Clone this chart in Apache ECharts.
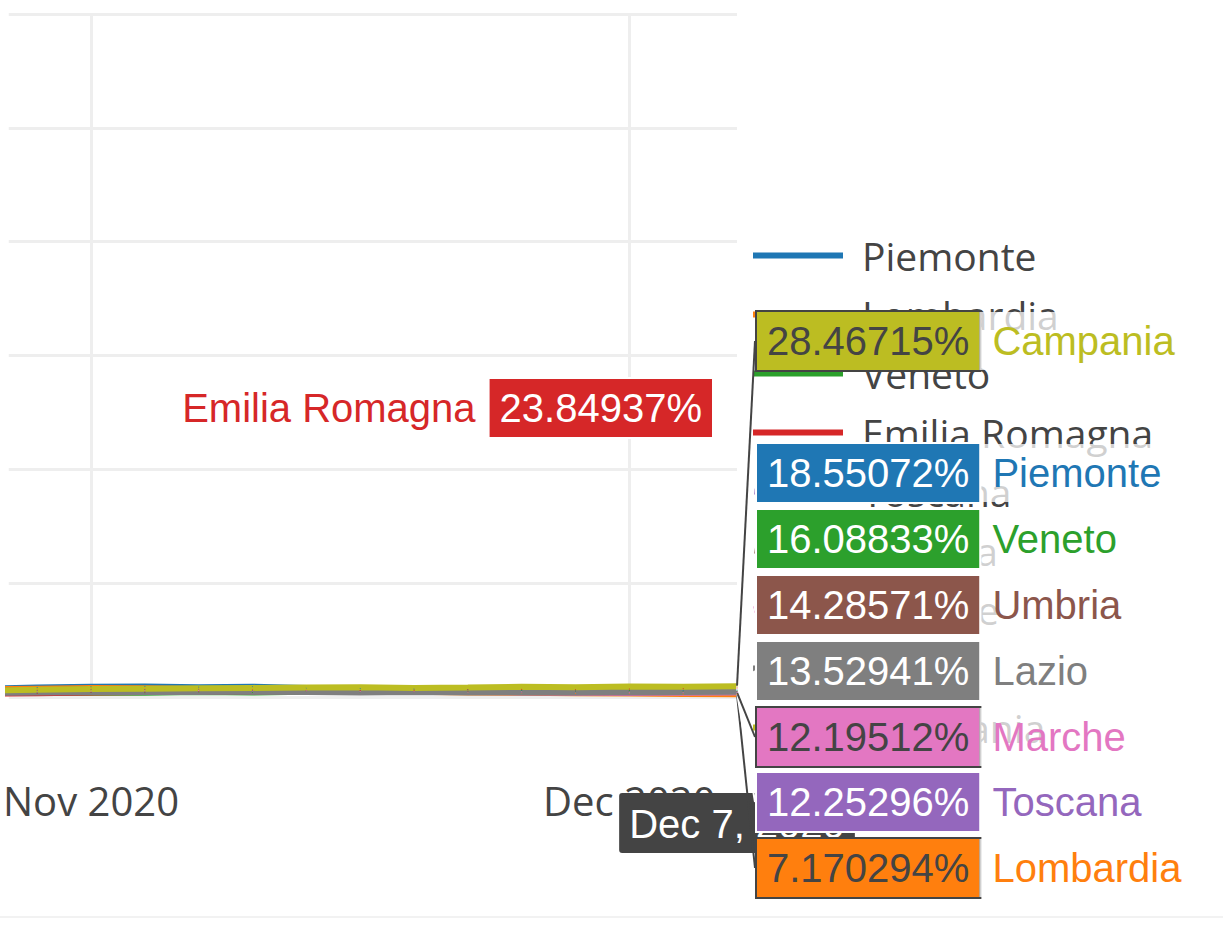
<!DOCTYPE html>
<html>
<head>
<meta charset="utf-8">
<title>Positivity by region</title>
<script src="https://cdn.jsdelivr.net/npm/echarts@6/dist/echarts.min.js"></script>
<style>
  html, body { margin: 0; padding: 0; background: #fff; }
  #chart { width: 1223px; height: 916px; border-bottom: 2px solid #f2f2f2; }
</style>
</head>
<body>
<div id="chart"></div>
<script>
// dates of the samples
const dates = ['2020-10-26', '2020-10-29', '2020-11-01', '2020-11-04', '2020-11-07',
  '2020-11-10', '2020-11-13', '2020-11-16', '2020-11-19', '2020-11-22',
  '2020-11-25', '2020-11-28', '2020-12-01', '2020-12-04', '2020-12-07']

// regions, in legend order
const regions = ['Piemonte', 'Lombardia', 'Veneto', 'Emilia Romagna', 'Toscana',
  'Umbria', 'Marche', 'Lazio', 'Campania']
const colors = ['#1f77b4', '#ff7f0e', '#2ca02c', '#d62728', '#9467bd',
  '#8c564b', '#e377c2', '#7f7f7f', '#bcbd22']

// values (%) for each region
const piemonte = [22, 25, 27, 28, 26, 27, 24, 22, 21, 19, 17, 16, 15, 17, 18.55072]
const lombardia = [20, 22, 24, 23, 21, 20, 18, 16, 14, 12, 11, 10, 9, 8, 7.170294]
const veneto = [10, 11, 12, 11, 13, 12, 14, 13, 15, 14, 16, 15, 17, 15, 16.08833]
const emilia = [9, 10, 12, 13, 14, 15, 16, 17, 18, 19, 20, 19, 21, 22, 23.84937]
const toscana = [15, 17, 19, 20, 18, 17, 16, 15, 14, 13, 12, 12, 11, 12, 12.25296]
const umbria = [16, 18, 20, 19, 21, 18, 17, 16, 15, 14, 15, 13, 14, 13, 14.28571]
const marche = [12, 13, 15, 16, 17, 15, 16, 14, 15, 13, 14, 12, 13, 12, 12.19512]
const lazio = [11, 12, 13, 14, 13, 14, 13, 12, 13, 12, 13, 12, 14, 13, 13.52941]
const campania = [17, 19, 21, 22, 23, 24, 25, 26, 24, 25, 27, 26, 28, 27, 28.46715]
const values = [piemonte, lombardia, veneto, emilia, toscana, umbria, marche, lazio, campania]

// x axis ticks
const tickDates = ['2020-11-01', '2020-12-01']
const hoverDate = '2020-12-07'

// hover label boxes (plotly style), centre y of each box
const hoverSlots = {
  'Campania': { y: 341, side: 'right' },
  'Emilia Romagna': { y: 408, side: 'left' },
  'Piemonte': { y: 473, side: 'right' },
  'Veneto': { y: 539, side: 'right' },
  'Umbria': { y: 605, side: 'right' },
  'Lazio': { y: 671, side: 'right' },
  'Marche': { y: 737, side: 'right' },
  'Toscana': { y: 802, side: 'right' },
  'Lombardia': { y: 868, side: 'right' },
}
const darkText = ['Lombardia', 'Marche', 'Campania']

const ts = (s) => +echarts.time.parse(s)
const hoverFont = 'Arial, "Liberation Sans", sans-serif'

let chart = echarts.init(document.getElementById('chart'), null, { renderer: 'svg' })

let series = regions.map(function (name, i) {
  let slot = hoverSlots[name]
  let fg = darkText.indexOf(name) >= 0 ? '#444' : '#fff'
  let left = slot.side === 'left'
  let data = values[i].map(function (v, j) {
    let item = { value: [ts(dates[j]), v] }
    if (j === values[i].length - 1) item.label = { show: true }
    return item
  })
  return {
    name: name,
    type: 'line',
    // own layer so the hover boxes cover the legend
    zlevel: 1,
    data: data,
    showSymbol: true,
    symbol: 'circle',
    symbolSize: 1,
    color: colors[i],
    lineStyle: { width: 6, color: colors[i] },
    emphasis: { disabled: true },
    label: {
      show: false,
      formatter: function (p) {
        let v = p.value[1] + '%'
        return left ? '{nm|' + p.seriesName + '}{box|' + v + '}'
                    : '{box|' + v + '}{nm|' + p.seriesName + '}'
      },
      rich: {
        box: {
          backgroundColor: colors[i],
          color: fg,
          borderColor: fg,
          borderWidth: 2,
          fontSize: 40,
          fontFamily: hoverFont,
          lineHeight: 48,
          padding: [9, 10, 9, 10],
        },
        nm: {
          color: colors[i],
          backgroundColor: left ? 'transparent' : 'rgba(255,255,255,0.75)',
          fontSize: 40,
          fontFamily: hoverFont,
          lineHeight: 48,
          padding: left ? [9, 14, 9, 0] : [9, 6, 9, 13],
        },
      },
    },
    labelLine: { show: !left, lineStyle: { color: fg === '#fff' ? '#ffffff' : '#444', width: 2 } },
    labelLayout: function (params) {
      let x = left ? 712 : 757
      let r = params.rect
      let px = r.x + r.width / 2
      let py = r.y + r.height / 2
      return {
        x: x,
        y: slot.y,
        align: left ? 'right' : 'left',
        verticalAlign: 'middle',
        labelLinePoints: [[px, py], [x, slot.y], [x, slot.y]],
      }
    },
  }
})

chart.setOption({
  animation: false,
  backgroundColor: '#fff',
  grid: { left: 8, right: 486, top: 14, bottom: 219 },
  legend: {
    orient: 'vertical',
    left: 753,
    top: 236,
    padding: 0,
    icon: 'rect',
    itemWidth: 90,
    itemHeight: 6,
    itemGap: 20,
    data: regions,
    textStyle: { fontSize: 39, color: '#444', fontFamily: '"Open Sans"', padding: [0, 0, 0, 14] },
  },
  xAxis: {
    // dates as timestamps on a value axis, ticks only at month starts
    type: 'value',
    min: ts('2020-10-27 10:00:00'),
    max: ts(hoverDate),
    axisLine: { show: false },
    axisTick: { show: false, customValues: tickDates.map(ts) },
    axisLabel: {
      customValues: tickDates.map(ts),
      formatter: function (v) { return echarts.time.format(v, '{MMM} {yyyy}', false) },
      fontSize: 40,
      color: '#444',
      fontFamily: '"Open Sans"',
      margin: 83,
    },
    splitLine: { show: true, lineStyle: { color: '#eeeeee', width: 3 } },
    axisPointer: {
      show: true,
      status: 'show',
      value: ts(hoverDate),
      snap: false,
      triggerTooltip: false,
      lineStyle: { width: 0, opacity: 0 },
      label: {
        show: true,
        formatter: function (p) { return echarts.time.format(p.value, '{MMM} {d}, {yyyy}', false) },
        backgroundColor: '#444',
        color: '#fff',
        fontSize: 40,
        fontFamily: hoverFont,
        padding: [11, 10, 9, 10],
        margin: 96,
      },
    },
  },
  yAxis: {
    type: 'value',
    min: 0,
    max: 1800,
    interval: 300,
    axisLine: { show: false },
    axisTick: { show: false },
    axisLabel: { show: false },
    splitLine: { show: true, lineStyle: { color: '#eeeeee', width: 3 } },
  },
  series: series,
})
</script>
</body>
</html>
